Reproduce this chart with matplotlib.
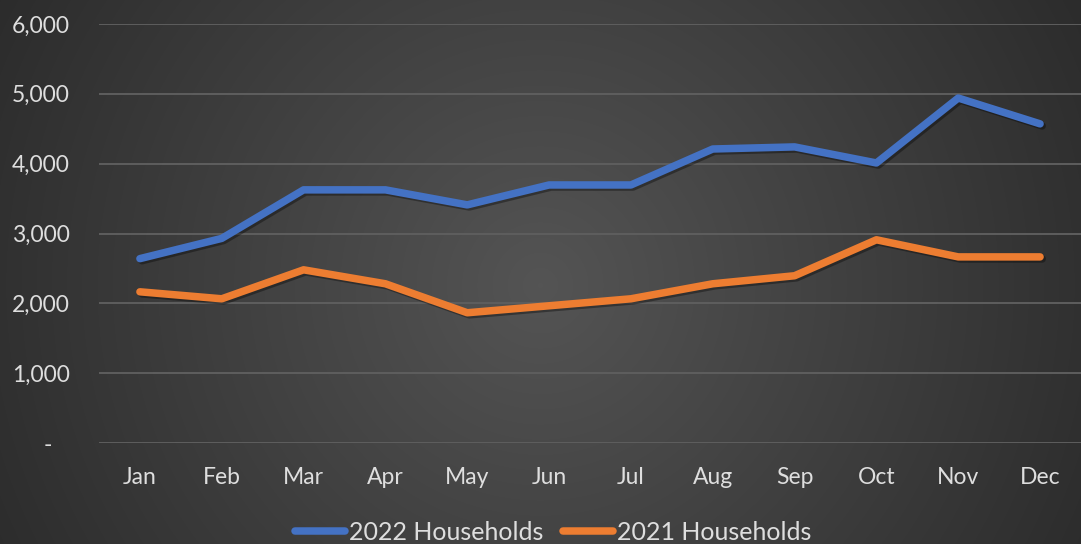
import numpy as np
import matplotlib.pyplot as plt
import matplotlib.patheffects as pe

plt.rcParams['font.family'] = ['Lato', 'DejaVu Sans']

months = ['Jan', 'Feb', 'Mar', 'Apr', 'May', 'Jun',
          'Jul', 'Aug', 'Sep', 'Oct', 'Nov', 'Dec']
households_2022 = [2640, 2930, 3625, 3625, 3410, 3695, 3695, 4210, 4240, 4010, 4940, 4570]
households_2021 = [2165, 2065, 2480, 2280, 1865, 1965, 2065, 2280, 2395, 2910, 2665, 2665]
yticks = [0, 1000, 2000, 3000, 4000, 5000, 6000]
ytick_labels = ['-   ', '1,000', '2,000', '3,000', '4,000', '5,000', '6,000']

txt_color = '#dedede'

fig = plt.figure(figsize=(10.81, 5.44), dpi=100)

# radial background
bg = fig.add_axes([0, 0, 1, 1], zorder=-10)
h, w = 544, 1081
yy, xx = np.mgrid[0:h, 0:w]
r = np.sqrt((xx - 540) ** 2 + (yy - 285) ** 2)
r = np.clip(r / 620.0, 0, 1)
shade = 0.33 - 0.16 * r
img = np.dstack([shade, shade, shade])
bg.imshow(img, aspect='auto', extent=[0, 1, 0, 1])
bg.set_axis_off()

ax = fig.add_axes([99 / 1081, 1 - 443 / 544, 982 / 1081, 419 / 544])
ax.patch.set_alpha(0)
x = np.arange(len(months))

shadow = [pe.SimpleLineShadow(offset=(1.5, -1.5), alpha=0.35, shadow_color='black'), pe.Normal()]
ax.plot(x, households_2022, color='#4472C4', lw=5.4, solid_capstyle='round',
        solid_joinstyle='round', label='2022 Households', path_effects=shadow, zorder=3)
ax.plot(x, households_2021, color='#ED7D31', lw=5.4, solid_capstyle='round',
        solid_joinstyle='round', label='2021 Households', path_effects=shadow, zorder=3)

ax.set_xlim(-0.5, 11.5)
ax.set_ylim(0, 6000)
ax.set_xticks(x)
ax.set_xticklabels(months)
ax.set_yticks(yticks)
ax.set_yticklabels(ytick_labels)
ax.tick_params(axis='both', length=0, labelsize=16.5, labelcolor=txt_color)
ax.tick_params(axis='y', pad=21)
ax.tick_params(axis='x', pad=17)
ax.grid(axis='y', color='#5e5e5e', lw=1.4)
ax.set_axisbelow(True)
for s in ax.spines.values():
    s.set_visible(False)

leg = fig.legend(loc='center', bbox_to_anchor=(553 / 1081, 1 - 532 / 544), ncol=2, frameon=False,
                 fontsize=18, handlelength=2.0, handletextpad=0.15, columnspacing=0.8)
for t in leg.get_texts():
    t.set_color(txt_color)
for l in leg.get_lines():
    l.set_linewidth(5.4)
    l.set_solid_capstyle('round')
    l.set_path_effects([])

fig.savefig('out.png', dpi=100)
